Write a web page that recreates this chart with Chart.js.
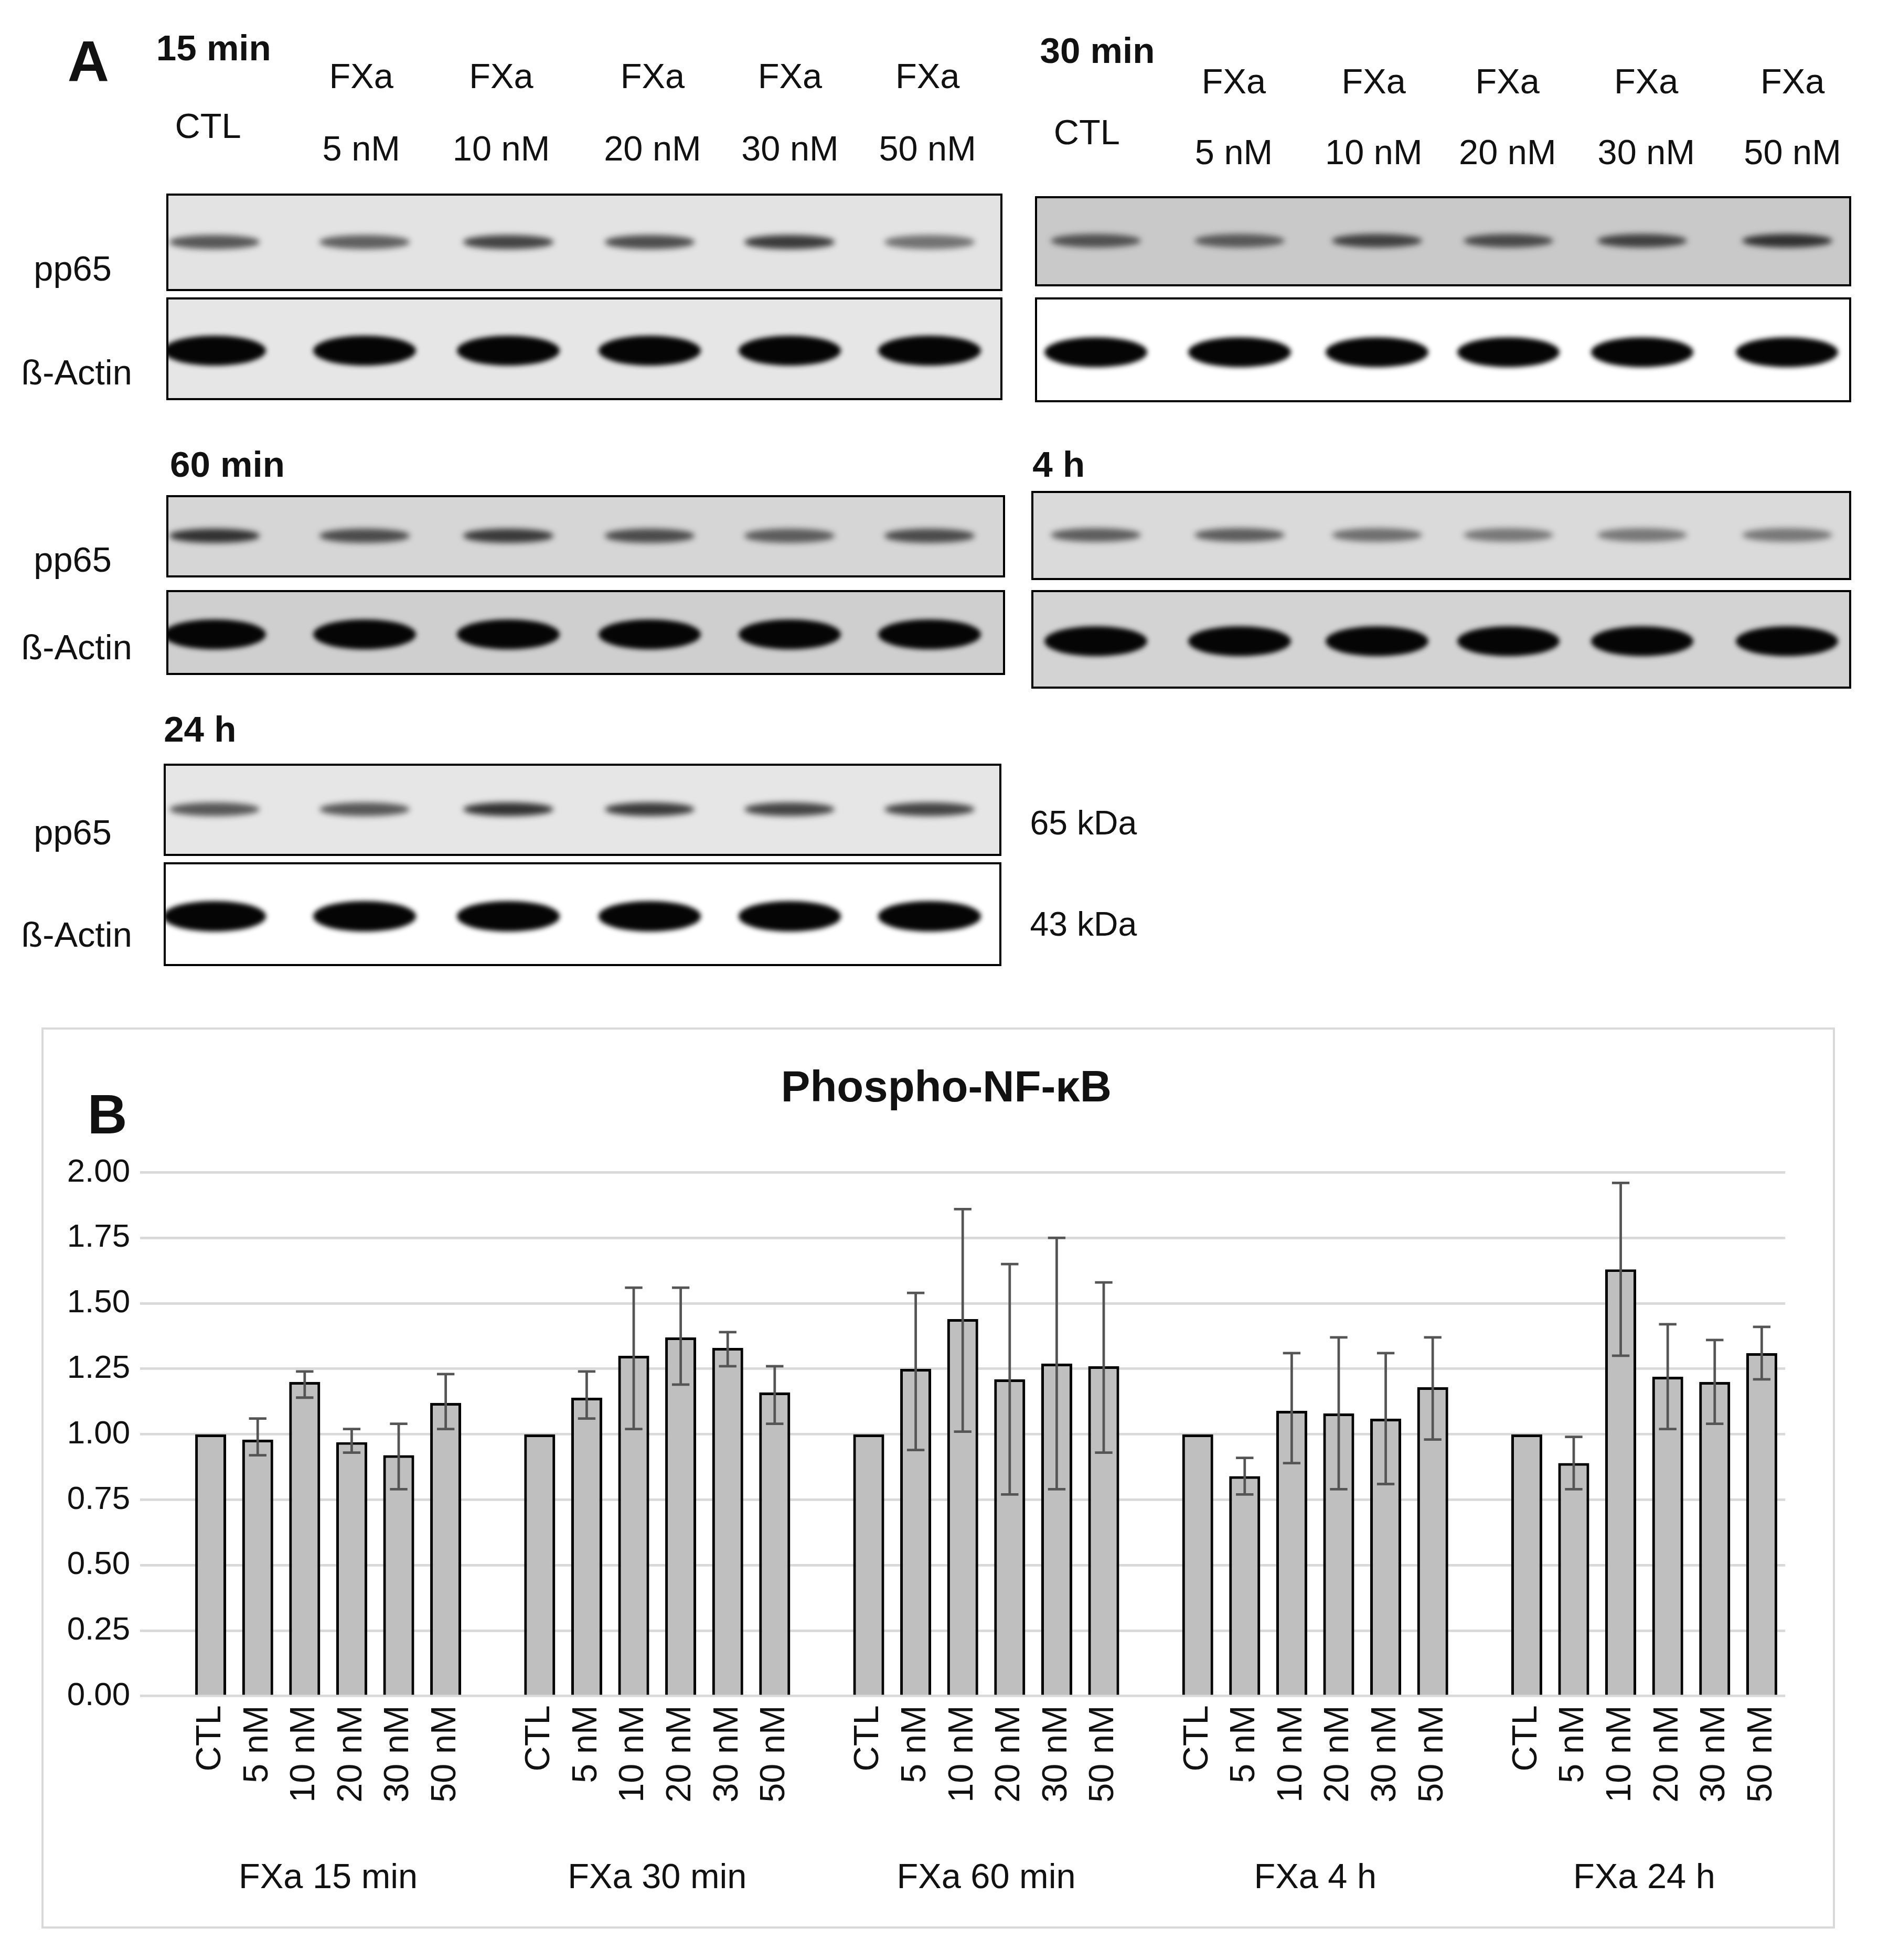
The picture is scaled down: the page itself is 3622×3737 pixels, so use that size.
<!DOCTYPE html>
<html><head><meta charset="utf-8">
<script src="https://cdn.jsdelivr.net/npm/chart.js@4.4.1/dist/chart.umd.min.js"></script>
<style>
html,body{margin:0;padding:0;background:#fff;}
body{width:3622px;height:3737px;position:relative;overflow:hidden;font-family:"Liberation Sans",Arial,sans-serif;}
.t{position:absolute;white-space:nowrap;color:#111;line-height:1;}
.box{position:absolute;border:solid #000;box-sizing:border-box;overflow:hidden;}
.band{position:absolute;border-radius:50%;}
</style></head><body>
<div id="root"></div>
<div id="cw" style="position:absolute;"><canvas id="c"></canvas></div>
<script>
const doseLabels = ['CTL','5 nM','10 nM','20 nM','30 nM','50 nM'];
const groupLabels = ['FXa 15 min','FXa 30 min','FXa 60 min','FXa 4 h','FXa 24 h'];
const mean15 = [1.00,0.98,1.20,0.97,0.92,1.12];
const mean30 = [1.00,1.14,1.30,1.37,1.33,1.16];
const mean60 = [1.00,1.25,1.44,1.21,1.27,1.26];
const mean4h = [1.00,0.84,1.09,1.08,1.06,1.18];
const mean24h = [1.00,0.89,1.63,1.22,1.20,1.31];
const upper15 = [null,1.06,1.24,1.02,1.04,1.23];
const lower15 = [null,0.92,1.14,0.93,0.79,1.02];
const upper30 = [null,1.24,1.56,1.56,1.39,1.26];
const lower30 = [null,1.06,1.02,1.19,1.26,1.04];
const upper60 = [null,1.54,1.86,1.65,1.75,1.58];
const lower60 = [null,0.94,1.01,0.77,0.79,0.93];
const upper4h = [null,0.91,1.31,1.37,1.31,1.37];
const lower4h = [null,0.77,0.89,0.79,0.81,0.98];
const upper24h = [null,0.99,1.96,1.42,1.36,1.41];
const lower24h = [null,0.79,1.30,1.02,1.04,1.21];
const yTicks = [0,0.25,0.5,0.75,1,1.25,1.5,1.75,2];

const S = 3622/1520;
const root = document.getElementById('root');
function txt(s,x,y,size,bold,extra){
  const d=document.createElement('div');d.className='t';d.textContent=s;
  d.style.left=(x*S)+'px';d.style.top=(y*S)+'px';d.style.fontSize=(size*S)+'px';
  if(bold)d.style.fontWeight='bold';
  if(extra)Object.assign(d.style,extra);
  root.appendChild(d);return d;
}
function ctxt(s,cx,y,size){const d=txt(s,cx,y,size);d.style.transform='translateX(-50%)';return d;}
function box(x1,y1,x2,y2,bg,lanes,kind,dark){
  const b=document.createElement('div');b.className='box';
  b.style.left=x1*S+'px';b.style.top=y1*S+'px';b.style.width=(x2-x1)*S+'px';b.style.height=(y2-y1)*S+'px';
  b.style.borderWidth=(2*S)+'px';b.style.background=bg;root.appendChild(b);
  const h=(y2-y1);
  lanes.forEach((lx,i)=>{
    const d=document.createElement('div');d.className='band';
    const w = kind==='a'?82:72, bh = kind==='a'?24:11;
    d.style.left=((lx-x1-w/2)*S)+'px';d.style.width=(w*S)+'px';
    d.style.top=((h/2-bh/2+(kind==='a'?0:-2))*S)+'px';d.style.height=(bh*S)+'px';
    d.style.background= kind==='a'?'#050505':'rgba(40,40,40,'+(dark[i]||0.8)+')';
    d.style.filter='blur('+(kind==='a'?2*S:2.5*S)+'px)';
    b.appendChild(d);
  });
}
// Panel A text
txt('A',54,26,46,true);
txt('15 min',125,24,29,true);
txt('CTL',140,87,28);
[289,401,522,632,742].forEach((x,i)=>{ctxt('FXa',x,47,28);ctxt(doseLabels[i+1],x,105,28);});
txt('30 min',832,26,29,true);
txt('CTL',843,92,28);
[987,1099,1206,1317,1434].forEach((x,i)=>{ctxt('FXa',x,51,28);ctxt(doseLabels[i+1],x,108,28);});
const L15=[170,290,405,518,630,742], L30=[875,990,1100,1205,1312,1428];
box(133,155,802,233,'#e3e3e3',L15,'p',[0.75,0.7,0.85,0.8,0.9,0.6]);
box(133,238,802,320,'#e6e6e6',L15,'a');
box(828,157,1481,229,'#c9c9c9',L30,'p',[0.75,0.7,0.85,0.8,0.85,0.95]);
box(828,238,1481,322,'#ffffff',L30,'a');
txt('60 min',136,357,29,true);
box(133,396,804,462,'#d6d6d6',L15,'p',[0.95,0.8,0.9,0.8,0.7,0.8]);
box(133,472,804,540,'#cfcfcf',L15,'a');
txt('4 h',826,357,29,true);
box(825,393,1481,464,'#dadada',L30,'p',[0.7,0.7,0.6,0.55,0.55,0.55]);
box(825,472,1481,551,'#d3d3d3',L30,'a');
txt('24 h',131,569,29,true);
box(131,611,801,685,'#e6e6e6',L15,'p',[0.75,0.75,0.95,0.9,0.85,0.85]);
box(131,690,801,773,'#ffffff',L15,'a');
txt('65 kDa',824,645,27);txt('43 kDa',824,726,27);
[201,434,652].forEach(y=>txt('pp65',27,y,28));
[284,504,734].forEach(y=>txt('ß-Actin',17,y,28));

// Panel B frame & titles
const fr=document.createElement('div');
Object.assign(fr.style,{position:'absolute',left:33*S+'px',top:822*S+'px',width:(1468-33)*S+'px',height:(1543-822)*S+'px',border:(2*S)+'px solid #d9d9d9',boxSizing:'border-box'});
root.appendChild(fr);
ctxt('Phospho-NF-κB',757,852,35).style.fontWeight='bold';
txt('B',70,870,44,true);

// Chart data
const means=[mean15,mean30,mean60,mean4h,mean24h];
const uppers=[upper15,upper30,upper60,upper4h,upper24h];
const lowers=[lower15,lower30,lower60,lower4h,lower24h];
const labels=[], vals=[], ups=[], lows=[];
means.forEach((g,gi)=>{
  labels.push(''); vals.push(null); ups.push(null); lows.push(null);
  g.forEach((v,i)=>{labels.push(doseLabels[i]);vals.push(v);ups.push(uppers[gi][i]);lows.push(lowers[gi][i]);});
});

const cw=document.getElementById('cw');
const CX=33,CY=822,CW=1468-33,CH=1543-822;
Object.assign(cw.style,{left:CX*S+'px',top:CY*S+'px',width:CW*S+'px',height:CH*S+'px'});

const errPlugin={id:'err',afterDatasetsDraw(chart){
  const ctx=chart.ctx, xs=chart.scales.x, ys=chart.scales.y;
  ctx.save();ctx.strokeStyle='#555';ctx.lineWidth=2*S;
  ups.forEach((u,i)=>{
    if(u==null)return;
    const x=xs.getPixelForValue(i), y1=ys.getPixelForValue(u), y2=ys.getPixelForValue(lows[i]);
    const c=7*S;
    ctx.beginPath();ctx.moveTo(x,y1);ctx.lineTo(x,y2);
    ctx.moveTo(x-c,y1);ctx.lineTo(x+c,y1);ctx.moveTo(x-c,y2);ctx.lineTo(x+c,y2);ctx.stroke();
  });
  ctx.fillStyle='#111';ctx.font=(28*S)+'px "Liberation Sans", Arial';ctx.textAlign='center';ctx.textBaseline='middle';
  groupLabels.forEach((g,gi)=>{
    const a=xs.getPixelForValue(gi*7+1), b=xs.getPixelForValue(gi*7+6);
    ctx.fillText(g,(a+b)/2,(1503-CY)*S);
  });
  ctx.restore();
}};

new Chart(document.getElementById('c'),{
  type:'bar',
  data:{labels:labels,datasets:[{data:vals,backgroundColor:'#bfbfbf',borderColor:'#000',borderWidth:2.2*S,barPercentage:0.66,categoryPercentage:1}]},
  options:{
    responsive:true,maintainAspectRatio:false,animation:false,devicePixelRatio:1,
    layout:{padding:{left:0,right:(1468-1428)*S,top:(938-822)*S,bottom:(1543-1470)*S}},
    plugins:{legend:{display:false},tooltip:{enabled:false}},
    scales:{
      x:{grid:{display:false},border:{display:false},
        ticks:{minRotation:90,maxRotation:90,autoSkip:false,color:'#111',font:{size:28*S,family:'"Liberation Sans", Arial'},padding:4*S},
        afterFit(s){s.height=(1470-1357)*S;}},
      y:{min:0,max:2,afterBuildTicks(s){s.ticks=yTicks.map(v=>({value:v}));},
        grid:{color:'#d9d9d9',lineWidth:2*S,drawTicks:false},border:{display:false},
        ticks:{color:'#111',font:{size:26*S,family:'"Liberation Sans", Arial'},padding:8*S,callback:v=>v.toFixed(2)},
        afterFit(s){s.width=(112-CX)*S;}}
    }
  },
  plugins:[errPlugin]
});
</script></body></html>
